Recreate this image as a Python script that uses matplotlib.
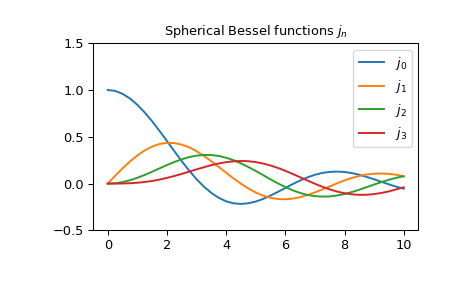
import matplotlib
matplotlib.use('Agg')
import matplotlib.pyplot as plt

plt.rcParams.update({
    'font.size': 10,
    'axes.titlesize': 10,
    'xtick.labelsize': 10,
    'ytick.labelsize': 10,
    'legend.fontsize': 10,
})

# sample points
x = [0, 0.25, 0.5, 0.75, 1, 1.25, 1.5, 1.75, 2, 2.25, 2.5, 2.75, 3, 3.25, 3.5,
     3.75, 4, 4.25, 4.5, 4.75, 5, 5.25, 5.5, 5.75, 6, 6.25, 6.5, 6.75, 7,
     7.25, 7.5, 7.75, 8, 8.25, 8.5, 8.75, 9, 9.25, 9.5, 9.75, 10]

j0 = [1.0, 0.990, 0.959, 0.909, 0.841, 0.759, 0.665, 0.562, 0.455, 0.346,
      0.239, 0.139, 0.047, -0.033, -0.100, -0.152, -0.189, -0.211, -0.217,
      -0.210, -0.192, -0.164, -0.128, -0.088, -0.047, -0.005, 0.033, 0.067,
      0.094, 0.114, 0.125, 0.128, 0.124, 0.112, 0.094, 0.071, 0.046, 0.019,
      -0.008, -0.033, -0.054]
j1 = [0.0, 0.083, 0.163, 0.236, 0.301, 0.355, 0.396, 0.423, 0.435, 0.433,
      0.416, 0.387, 0.346, 0.296, 0.239, 0.178, 0.116, 0.055, -0.001, -0.052,
      -0.095, -0.129, -0.152, -0.165, -0.168, -0.161, -0.145, -0.122, -0.094,
      -0.063, -0.030, 0.003, 0.034, 0.060, 0.082, 0.097, 0.106, 0.108, 0.104,
      0.094, 0.078]
j2 = [0.0, 0.004, 0.016, 0.036, 0.062, 0.093, 0.127, 0.163, 0.198, 0.231,
      0.260, 0.283, 0.299, 0.306, 0.305, 0.295, 0.276, 0.250, 0.216, 0.177,
      0.135, 0.090, 0.045, 0.002, -0.037, -0.072, -0.100, -0.121, -0.134,
      -0.139, -0.137, -0.127, -0.111, -0.090, -0.065, -0.038, -0.010, 0.016,
      0.041, 0.062, 0.078]
j3 = [0.0, 0.000, 0.001, 0.004, 0.009, 0.017, 0.028, 0.043, 0.061, 0.081,
      0.104, 0.128, 0.152, 0.175, 0.197, 0.215, 0.229, 0.238, 0.242, 0.239,
      0.230, 0.214, 0.193, 0.167, 0.137, 0.103, 0.068, 0.033, -0.002, -0.034,
      -0.062, -0.085, -0.103, -0.115, -0.120, -0.119, -0.112, -0.100, -0.083,
      -0.062, -0.039]

series = [j0, j1, j2, j3]
labels = ['$j_0$', '$j_1$', '$j_2$', '$j_3$']
yticks = [-0.5, 0.0, 0.5, 1.0, 1.5]

fig = plt.figure(figsize=(5, 3.097), dpi=93)
fig.subplots_adjust(left=0.2, right=0.9, bottom=0.2, top=0.85)
ax = fig.add_subplot(111)
for y, lab in zip(series, labels):
    ax.plot(x, y, label=lab)
ax.set_ylim(-0.5, 1.5)
ax.set_yticks(yticks)
ax.legend(loc='best')
ax.set_title('Spherical Bessel functions $j_n$')

fig.savefig('out.png', dpi=93)
